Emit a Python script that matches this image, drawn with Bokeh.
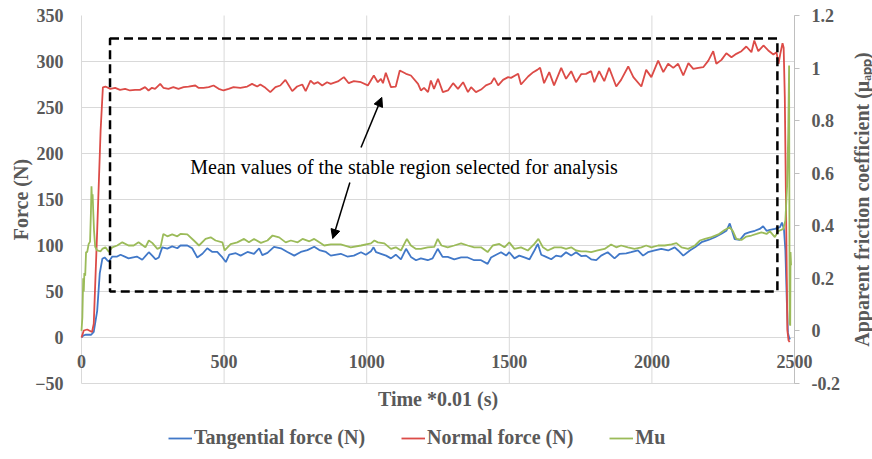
from bokeh.plotting import figure
from bokeh.models import (Range1d, LinearAxis, FixedTicker, CustomJSTickFormatter,
                          Legend, LegendItem, Arrow, NormalHead, Label, BoxAnnotation)
from bokeh.embed import file_html
from bokeh.resources import INLINE
import math

# ---------------- data ----------------
tangential_time = [0, 6, 14, 34, 43, 55, 64, 73, 81, 90, 96, 108, 125, 137, 165, 194, 213, 236, 248, 260,
                   271, 283, 301, 318, 336, 347, 371, 388, 406, 424, 441, 459, 476, 494, 506, 518, 541, 558,
                   582, 605, 623, 634, 652, 675, 699, 722, 746, 769, 792, 816, 834, 857, 874, 909, 932, 955,
                   980, 997, 1015, 1024, 1033, 1050, 1068, 1085, 1102, 1120, 1138, 1155, 1173, 1190, 1214,
                   1231, 1249, 1266, 1284, 1307, 1331, 1354, 1377, 1401, 1424, 1436, 1454, 1471, 1489, 1500,
                   1518, 1535, 1553, 1571, 1588, 1600, 1612, 1629, 1647, 1664, 1682, 1699, 1717, 1734, 1752,
                   1769, 1787, 1805, 1822, 1845, 1869, 1887, 1910, 1927, 1951, 1969, 1986, 2010, 2033, 2057,
                   2080, 2092, 2110, 2133, 2151, 2174, 2198, 2221, 2244, 2261, 2273, 2281, 2290, 2308, 2326,
                   2343, 2361, 2378, 2390, 2402, 2414, 2431, 2449, 2456, 2463, 2468, 2473, 2477, 2482, 2485]
tangential = [0, 2, 3, 3, 6, 29, 69.6, 85.5, 87, 84, 82.5, 88, 88, 90, 86, 88, 84.5, 92.7, 89, 85,
              87, 98, 96.6, 99, 97, 100, 100, 97, 87, 91, 97, 93, 93, 87, 82, 90, 91.6, 89,
              93, 91, 97, 89.5, 92, 98.6, 97, 93, 89, 93, 95, 98.6, 95, 93, 89, 91, 88, 89,
              92.7, 90, 93.8, 98, 92.7, 91, 89, 86, 90, 85, 96.4, 87.6, 84, 86, 84,
              86, 96.4, 87.6, 87.6, 85, 87, 87, 84, 84, 80, 87, 90, 92.7, 89, 92.7,
              86, 89, 87, 85, 94.6, 101.8, 90, 87.6, 85, 89, 88, 92.7, 89, 92.7, 88.5,
              89, 85, 84, 89, 92.7, 86, 91, 91.5, 92.7, 94.6, 89, 92.7, 94.6, 96.4, 94.6,
              98, 94.6, 89, 94.6, 98, 103.6, 106, 109, 112.7, 116, 124, 116, 107, 106, 112.7,
              114.5, 116, 118, 121, 116, 117, 118, 120, 125, 118, 95, 40, 5, -1, -2]

normal_time = [0, 8, 20, 37, 43, 55, 67, 75, 84, 101, 118, 135, 153, 170, 188, 205, 223, 235, 247, 258,
               276, 287, 305, 322, 340, 358, 375, 399, 410, 428, 446, 463, 481, 498, 516, 533, 557, 581,
               598, 616, 627, 645, 662, 680, 697, 715, 727, 739, 756, 774, 786, 803, 815, 829, 844, 861,
               874, 899, 920, 937, 955, 980, 1004, 1025, 1039, 1050, 1057, 1067, 1085, 1102, 1116, 1138,
               1155, 1180, 1190, 1201, 1215, 1225, 1236, 1250, 1267, 1285, 1303, 1320, 1338, 1355, 1366,
               1383, 1401, 1418, 1436, 1447, 1461, 1478, 1496, 1506, 1531, 1541, 1566, 1584, 1598, 1608,
               1622, 1640, 1657, 1682, 1699, 1717, 1734, 1752, 1769, 1787, 1798, 1815, 1833, 1850, 1875,
               1892, 1917, 1935, 1963, 1980, 1998, 2022, 2040, 2057, 2075, 2092, 2110, 2128, 2145, 2163,
               2180, 2198, 2215, 2226, 2244, 2261, 2279, 2296, 2314, 2331, 2349, 2359, 2373, 2391, 2408,
               2426, 2437, 2444, 2450, 2458, 2462, 2466, 2470, 2475, 2479, 2483]
normal = [0, 7.6, 8.7, 6, 15, 116, 225, 272, 272.8, 270.3, 271.4, 269.2, 270.3, 268.5, 269.2, 269.2, 272.1,
          268.5, 271.4, 270.3, 275.7, 271.4, 270.3, 272.1, 270.3, 272.1, 272.8, 273.9, 271.4, 271.4, 272.1,
          273.9, 270.3, 268.5, 270.3, 272.1, 271.4, 272.8, 275.7, 272.8, 275, 271.4, 266.7, 272.1, 273.9,
          280, 273.9, 267.8, 272.8, 275, 267.8, 279.3, 275.7, 277.5, 273.9, 277.5,
          275.7, 278.3, 283, 276.4, 278.6, 277.5, 274, 284.8, 277.5, 281.2, 276.4, 287.7, 272.1, 272.8,
          290.2, 286.6, 284.8, 275.7, 268.5, 271.4, 266.7, 279.3, 270.3, 281.2, 266.7, 268.5, 276.4, 270.3,
          277.5, 266.7, 272.1, 266.7, 269.5, 274, 276.4, 282.2, 274, 280, 283, 282.2, 286.6, 275, 283.7,
          288.4, 290.9, 293.1, 276.4, 288.4, 274, 293.1, 281.2, 289.5, 277.5, 286.2, 286.6, 289.5, 277.5,
          289.5, 278.6, 293.1, 272.8, 280, 294.6, 283, 272.8, 290.9, 283, 301, 288.4, 297.5, 293.1, 297.5,
          284.8, 298.2, 292, 293.1, 293.8, 301, 311.2, 297.5, 301.8, 309, 304.7, 308.3, 311.2, 316.3, 310.1,
          322.8, 311.2, 317.4, 312, 307.6, 310, 297.5, 308, 320, 315, 261, 150, 8, -3, -5]

mu_time = [0, 3, 6, 8, 10, 13, 16, 20, 25, 30, 33, 35, 37, 39, 41, 44, 48, 55, 67, 73, 84, 96, 108, 125,
           143, 165, 183, 200, 224, 236, 248, 266, 277, 287, 301, 318, 336, 347, 371, 394, 412, 435, 453,
           470, 494, 502, 523, 546, 570, 587, 605, 629, 652, 670, 693, 716, 734, 758, 775, 799, 816, 834,
           851, 874, 909, 944, 980, 1015, 1027, 1039, 1062, 1085, 1102, 1120, 1141, 1155, 1173, 1190, 1214,
           1237, 1249, 1262, 1284, 1307, 1331, 1354, 1377, 1401, 1424, 1442, 1465, 1483, 1500, 1518, 1541,
           1565, 1588, 1602, 1618, 1635, 1658, 1682, 1699, 1717, 1734, 1752, 1769, 1787, 1810, 1834, 1857,
           1875, 1892, 1916, 1939, 1963, 1980, 1998, 2022, 2045, 2069, 2086, 2104, 2127, 2151, 2168, 2186,
           2209, 2233, 2255, 2273, 2284, 2296, 2314, 2331, 2349, 2367, 2384, 2402, 2414, 2431, 2443, 2461,
           2468, 2474, 2478, 2481, 2482, 2483, 2485, 2486, 2488]
mu = [0, 0.05, 0.2, 0.15, 0.22, 0.21, 0.30, 0.30, 0.33, 0.34, 0.45, 0.55, 0.49, 0.52, 0.46, 0.38, 0.32,
      0.306, 0.303, 0.312, 0.318, 0.30, 0.318, 0.325, 0.337, 0.325, 0.325, 0.337, 0.318, 0.344, 0.335,
      0.312, 0.318, 0.369, 0.36, 0.367, 0.36, 0.369, 0.367, 0.344, 0.325, 0.35, 0.356, 0.344, 0.337,
      0.306, 0.33, 0.337, 0.35, 0.337, 0.35, 0.335, 0.344, 0.363, 0.356, 0.337, 0.344, 0.337, 0.35,
      0.341, 0.35, 0.337, 0.325, 0.329, 0.329, 0.318, 0.325, 0.333, 0.344, 0.337, 0.333, 0.312, 0.318,
      0.306, 0.35, 0.325, 0.312, 0.312, 0.318, 0.32, 0.35, 0.325, 0.318, 0.325, 0.333, 0.325, 0.318,
      0.318, 0.30, 0.325, 0.331, 0.318, 0.337, 0.312, 0.318, 0.306, 0.331, 0.35, 0.318, 0.306, 0.318,
      0.318, 0.312, 0.318, 0.306, 0.303, 0.303, 0.30, 0.306, 0.312, 0.329, 0.318, 0.325, 0.318, 0.312,
      0.318, 0.325, 0.318, 0.325, 0.325, 0.329, 0.334, 0.318, 0.312, 0.325, 0.344, 0.35, 0.357, 0.367,
      0.384, 0.394, 0.38, 0.35, 0.346, 0.359, 0.363, 0.369, 0.375, 0.369, 0.379, 0.357, 0.379, 0.388,
      0.42, 0.55, 0.75, 1.01, 0.5, 0.03, 0.02, 0.30, 0.25]

force_ticks = [-50, 0, 50, 100, 150, 200, 250, 300, 350]
mu_ticks = [-0.2, 0, 0.2, 0.4, 0.6, 0.8, 1.0, 1.2]
time_ticks = [0, 500, 1000, 1500, 2000, 2500]

series_labels = ["Tangential force (N)", "Normal force (N)", "Mu"]
series_colors = ["#4178C8", "#DC4B47", "#9BBB59"]

# annotation content
region_time = [100, 2440]
region_force = [50, 325]
note_text = "Mean values of the stable region selected for analysis"
note_pos = (1131, 185)
arrow_up = (980, 206.5, 1053, 261)
arrow_down = (941, 168.5, 881, 107.6)

GREY = "#595959"
GRID = "#d9d9d9"
FONT = "Liberation Serif"

# ---------------- layout geometry (pixels) ----------------
W, H = 872, 459
PLOT_L, PLOT_R, PLOT_T, PLOT_B = 81, 794, 15, 383
T0, T1 = time_ticks[0], time_ticks[-1]
F0, F1 = force_ticks[0], force_ticks[-1]
M0, M1 = mu_ticks[0], mu_ticks[-1]

kx = (T1 - T0) / (PLOT_R - PLOT_L)
kf = (F1 - F0) / (PLOT_B - PLOT_T)
km = (M1 - M0) / (PLOT_B - PLOT_T)

def px_to_t(px):
    return T0 + (px - PLOT_L) * kx

def py_to_f(py):
    return F1 - (py - PLOT_T) * kf

x_rng = Range1d(px_to_t(0), px_to_t(W))
y_rng = Range1d(py_to_f(H), py_to_f(0))
mu_rng = Range1d(M1 - (H - PLOT_T) * km, M1 + PLOT_T * km)

p = figure(width=W, height=H, output_backend="svg", toolbar_location=None,
           x_range=x_rng, y_range=y_rng, min_border=0)
p.outline_line_color = None
p.background_fill_color = "white"
p.extra_y_ranges = {"mu": mu_rng}
p.grid.visible = False

# gridlines inside the plot area only
p.segment(x0=[T0] * (len(force_ticks) - 1), x1=[T1] * (len(force_ticks) - 1),
          y0=force_ticks[:-1], y1=force_ticks[:-1], line_color=GRID, line_width=1)
p.segment(x0=time_ticks, x1=time_ticks, y0=[F0] * len(time_ticks), y1=[F1] * len(time_ticks),
          line_color=GRID, line_width=1)

# left axis (at time = 0)
ly = p.yaxis[0]
ly.ticker = FixedTicker(ticks=force_ticks)
ly.fixed_location = T0
ly.axis_line_color = None
ly.major_tick_line_color = None
ly.minor_tick_line_color = None
ly.major_tick_out = 0
ly.major_label_standoff = 18
ly.major_label_text_font = FONT
ly.major_label_text_font_style = "bold"
ly.major_label_text_font_size = "18px"
ly.major_label_text_color = GREY

# bottom axis crossing at force = 0
bx = p.xaxis[0]
bx.ticker = FixedTicker(ticks=time_ticks)
bx.fixed_location = 0
bx.axis_line_color = None
bx.major_tick_line_color = None
bx.minor_tick_line_color = None
bx.major_tick_out = 0
bx.major_label_standoff = 17
bx.major_label_text_font = FONT
bx.major_label_text_font_style = "bold"
bx.major_label_text_font_size = "18px"
bx.major_label_text_color = GREY

# right axis for Mu (at time = 2500)
ry = LinearAxis(y_range_name="mu", ticker=FixedTicker(ticks=mu_ticks),
                formatter=CustomJSTickFormatter(code="return String(Math.round(tick*10)/10);"))
ry.fixed_location = T1
ry.bounds = (M0, M1)
ry.axis_line_color = "#bfbfbf"
ry.major_tick_line_color = "#bfbfbf"
ry.minor_tick_line_color = None
ry.major_tick_out = 5
ry.major_tick_in = 0
ry.major_label_standoff = 12
ry.major_label_text_font = FONT
ry.major_label_text_font_style = "bold"
ry.major_label_text_font_size = "18px"
ry.major_label_text_color = GREY
p.add_layout(ry, "right")

# lines
r_t = p.line(tangential_time, tangential, line_color=series_colors[0], line_width=1.8)
r_n = p.line(normal_time, normal, line_color=series_colors[1], line_width=1.8)
r_m = p.line(mu_time, mu, line_color=series_colors[2], line_width=1.8, y_range_name="mu")

# dashed region
box = BoxAnnotation(left=region_time[0], right=region_time[1], bottom=region_force[0], top=region_force[1],
                    fill_alpha=0, line_color="black", line_alpha=1.0, line_width=2.5, line_dash="9 5")
p.add_layout(box)

# note and arrows
p.add_layout(Label(x=note_pos[0], y=note_pos[1], text=note_text, text_align="center",
                   text_baseline="middle", text_font=FONT, text_font_size="20px", text_color="black"))
for a in (arrow_up, arrow_down):
    p.add_layout(Arrow(x_start=a[0], y_start=a[1], x_end=a[2], y_end=a[3], line_width=1.5,
                       line_color="black",
                       end=NormalHead(size=9, fill_color="black", line_color="black")))

# axis titles
p.add_layout(Label(x=px_to_t(20), y=py_to_f((PLOT_T + PLOT_B) / 2), text="Force (N)",
                   angle=math.pi / 2, text_align="center", text_baseline="middle",
                   text_font=FONT, text_font_style="bold", text_font_size="20px", text_color=GREY))
p.add_layout(Label(x=(T0 + T1) / 2, y=py_to_f(398), text="Time *0.01 (s)", text_align="center",
                   text_baseline="middle", text_font=FONT, text_font_style="bold",
                   text_font_size="20px", text_color=GREY))
p.add_layout(Label(x=px_to_t(861), y=py_to_f((PLOT_T + PLOT_B) / 2),
                   text="Apparent friction coefficient (\u03bc\u2090\u209a\u209a)",
                   angle=math.pi / 2, text_align="center", text_baseline="middle",
                   text_font=FONT, text_font_style="bold", text_font_size="20px", text_color=GREY))

legend = Legend(items=[LegendItem(label=series_labels[0], renderers=[r_t]),
                       LegendItem(label=series_labels[1], renderers=[r_n]),
                       LegendItem(label=series_labels[2], renderers=[r_m])],
                orientation="horizontal", location=(168, H - 449),
                background_fill_alpha=0, border_line_alpha=0,
                label_text_font=FONT, label_text_font_style="bold", label_text_font_size="20px",
                label_text_color=GREY, glyph_width=24, label_standoff=2, spacing=36,
                padding=0, margin=0)
p.add_layout(legend)

open("out.html", "w").write(file_html(p, INLINE))
